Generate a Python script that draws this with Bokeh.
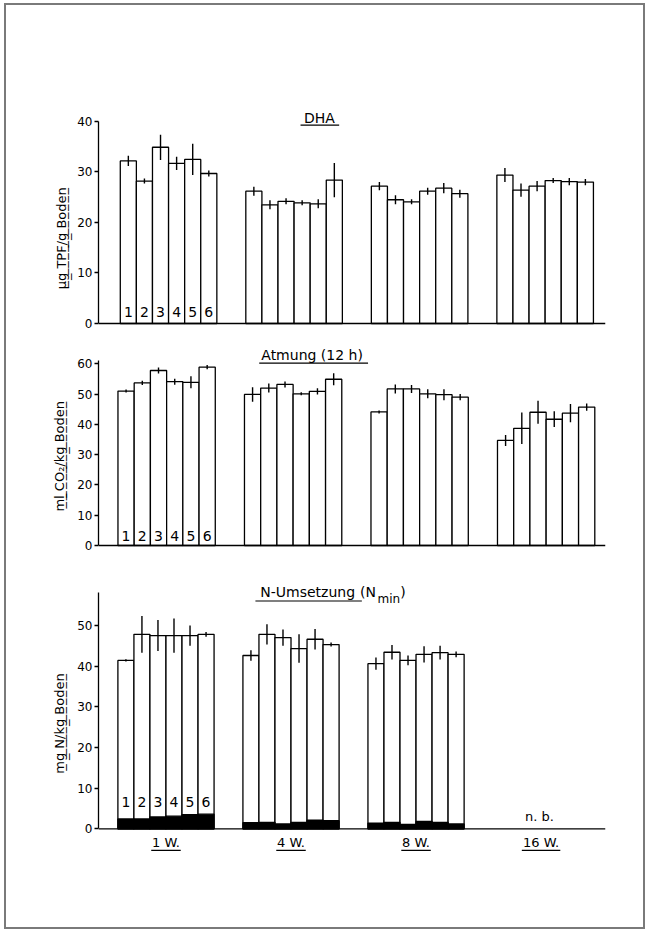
from bokeh.plotting import figure
from bokeh.layouts import column
from bokeh.models import Range1d, FixedTicker, Span
from bokeh.core.properties import value
from bokeh.embed import file_html
from bokeh.resources import INLINE

# ---------------- data ----------------
weeks = ["1 W.", "4 W.", "8 W.", "16 W."]
variants = ["1", "2", "3", "4", "5", "6"]

# DHA (µg TPF / g Boden), one list per week, variants 1..6
dha_mean = [[32.2, 28.2, 34.9, 31.7, 32.5, 29.7],
            [26.2, 23.5, 24.2, 23.9, 23.7, 28.4],
            [27.2, 24.5, 24.1, 26.2, 26.8, 25.7],
            [29.4, 26.4, 27.2, 28.3, 28.1, 28.0]]
dha_err = [[1.0, 0.5, 2.5, 1.3, 3.1, 0.6],
           [0.9, 0.9, 0.6, 0.5, 0.9, 3.4],
           [0.8, 0.9, 0.5, 0.7, 1.0, 0.8],
           [1.4, 1.3, 1.0, 0.5, 0.7, 0.6]]

# Atmung 12 h (ml CO2 / kg Boden)
resp_mean = [[51.0, 53.7, 57.8, 54.1, 53.9, 58.9],
             [49.9, 52.0, 53.2, 50.1, 50.9, 54.9],
             [44.1, 51.7, 51.7, 50.1, 49.8, 49.0],
             [34.7, 38.7, 44.0, 41.7, 43.7, 45.7]]
resp_err = [[0.5, 0.7, 1.0, 1.0, 2.0, 0.7],
            [2.4, 1.5, 1.0, 0.5, 1.0, 2.0],
            [0.5, 1.5, 1.3, 1.5, 1.8, 1.0],
            [1.8, 5.2, 3.8, 2.6, 3.0, 1.2]]

# N-Umsetzung Nmin (mg N / kg Boden); 16 W. not determined (n. b.)
nmin_mean = [[41.4, 47.8, 47.5, 47.5, 47.5, 47.8],
             [42.6, 47.8, 47.0, 44.3, 46.6, 45.3],
             [40.6, 43.4, 41.4, 42.9, 43.3, 42.9]]
nmin_err = [[0.3, 4.5, 3.8, 4.2, 2.5, 0.6],
            [1.3, 2.5, 2.0, 3.5, 2.5, 0.5],
            [1.5, 1.8, 1.2, 2.0, 1.7, 0.7]]
nmin_dark = [[2.4, 2.4, 2.9, 3.1, 3.5, 3.6],
             [1.5, 1.6, 1.2, 1.6, 2.1, 2.0],
             [1.4, 1.6, 1.1, 1.8, 1.6, 1.2]]

# ---------------- styling / layout ----------------
FONT = "DejaVu Sans"
GROUP_STEP = 7.8
LW = 1.3
W = 637
NB = "\u00a0"


def underlined(s):
    # combining low line after each character -> underlined label text
    return "".join(ch + "\u0332" for ch in s)


def xpos(ngroups):
    return [g * GROUP_STEP + i + 0.5 for g in range(ngroups) for i in range(6)]


def flat(a):
    return [v for row in a for v in row]


def make_fig(height, xr, yr, mbl, mbr, mbt, mbb, ticks, bound, ylab, standoff):
    p = figure(width=W, height=height, x_range=Range1d(*xr), y_range=Range1d(*yr),
               x_axis_location=None, toolbar_location=None, output_backend="svg",
               min_border_left=mbl, min_border_right=mbr, min_border_top=mbt,
               min_border_bottom=mbb, outline_line_color=None,
               background_fill_color="white", border_fill_color="white")
    p.grid.visible = False
    ax = p.yaxis[0]
    ax.ticker = FixedTicker(ticks=ticks)
    ax.bounds = bound
    ax.major_tick_out = 4
    ax.major_tick_in = 0
    ax.minor_tick_line_color = None
    ax.major_label_standoff = 2
    ax.axis_line_width = LW
    ax.major_tick_line_width = LW
    ax.major_label_text_font = FONT
    ax.major_label_text_font_size = "12px"
    ax.major_label_text_color = "black"
    ax.axis_label = ylab
    ax.axis_label_text_font = FONT
    ax.axis_label_text_font_size = "13px"
    ax.axis_label_text_font_style = "normal"
    ax.axis_label_text_color = "black"
    ax.axis_label_standoff = standoff
    p.add_layout(Span(location=0, dimension="width", line_color="black", line_width=LW))
    return p


def bars(p, mean, err, ngroups):
    xs = xpos(ngroups)
    m = flat(mean)
    e = flat(err)
    p.vbar(x=xs, top=m, bottom=0, width=1, fill_color="white",
           line_color="black", line_width=LW)
    p.segment(x0=xs, y0=[a - b for a, b in zip(m, e)], x1=xs,
              y1=[a + b for a, b in zip(m, e)], line_color="black", line_width=1.4)


def numbers(p, ymid):
    p.text(x=[i + 0.5 for i in range(6)], y=[ymid] * 6, text=variants,
           text_align="center", text_baseline="middle",
           text_font=value(FONT), text_font_size="14px", text_color="black")


def txt(p, x, y, s, size="14px", align="center"):
    p.text(x=[x], y=[y], text=[s], text_align=align, text_baseline="middle",
           text_font=value(FONT), text_font_size=size, text_color="black")


def uline(p, x0, x1, y):
    p.segment(x0=[x0], y0=[y], x1=[x1], y1=[y], line_color="black", line_width=1.2)


# ---- panel 1: DHA ----
p1 = make_fig(330, (-1.354, 30.15), (-1.39, 44.16), 87, 38, 95, 5,
              [0, 10, 20, 30, 40], (0, 40),
              underlined("µg TPF/g Boden") + NB * 11, 5)
bars(p1, dha_mean, dha_err, 4)
numbers(p1, 2.2)
txt(p1, 12.37, 40.7, "DHA")
uline(p1, 11.2, 13.6, 39.3)

# ---- panel 2: Atmung ----
p2 = make_fig(230, (-1.2, 30.06), (-3.3, 67.7), 91, 38, 5, 10,
              [0, 10, 20, 30, 40, 50, 60], (0, 61),
              underlined("ml CO₂/kg Boden") + NB * 4, 7)
bars(p2, resp_mean, resp_err, 4)
numbers(p2, 3.3)
txt(p2, 11.97, 62.8, "Atmung (12 h)")
uline(p2, 8.71, 15.42, 60.2)

# ---- panel 3: N-Umsetzung ----
p3 = make_fig(362, (-1.21, 30.42), (-18.86, 63.5), 92, 31, 5, 22,
              [0, 10, 20, 30, 40, 50], (0, 58),
              NB * 7 + underlined("mg N/kg Boden"), 7)
bars(p3, nmin_mean, nmin_err, 3)
p3.vbar(x=xpos(3), top=flat(nmin_dark), bottom=0, width=1, fill_color="black",
        line_color="black", line_width=LW)
numbers(p3, 6.5)
txt(p3, 8.88, 58.1, "N-Umsetzung", align="left")
uline(p3, 8.58, 15.22, 56.0)
txt(p3, 15.1, 58.1, "(N", align="left")
txt(p3, 16.2, 56.6, "min", size="12px", align="left")
txt(p3, 17.62, 58.1, ")", align="left")

centers = [g * GROUP_STEP + 3 for g in range(4)]
p3.text(x=centers, y=[-3.4] * 4, text=weeks, text_align="center",
        text_baseline="middle", text_font=value(FONT), text_font_size="13px",
        text_color="black")
half = [0.92, 0.92, 0.92, 1.2]
p3.segment(x0=[c - h for c, h in zip(centers, half)], y0=[-5.3] * 4,
           x1=[c + h for c, h in zip(centers, half)], y1=[-5.3] * 4,
           line_color="black", line_width=1.1)
txt(p3, centers[3] - 0.1, 3.1, "n. b.", size="13px")

layout = column(p1, p2, p3, spacing=0,
                styles={"border": "2px solid #7a7a7a", "margin": "3px 0 0 4px"})

open("out.html", "w").write(file_html(layout, INLINE))
